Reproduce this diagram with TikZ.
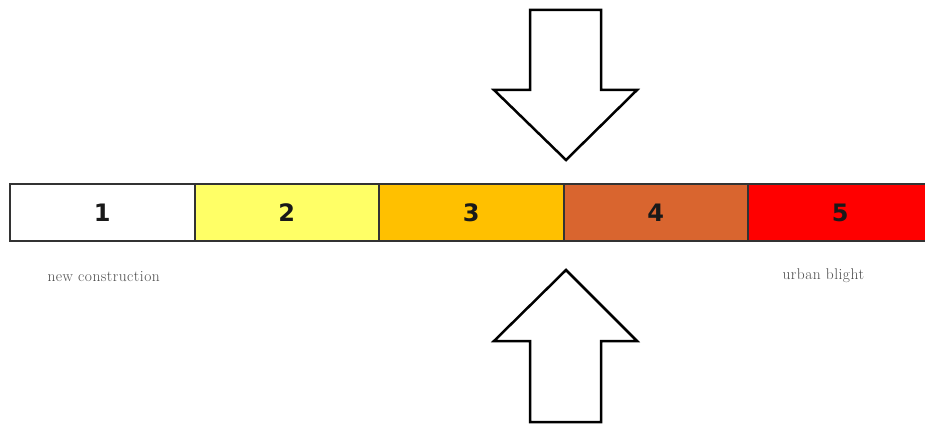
\documentclass[tikz,border=0pt]{standalone}
\usepackage{fontspec}
\newfontfamily\digitfont{DejaVu Sans}
\newfontfamily\capfont{Latin Modern Roman}[LetterSpace=3]
\begin{document}
\begin{tikzpicture}[x=1pt,y=-1pt,
  seg/.style={draw=black!80,line width=2pt,minimum width=184.5pt,minimum height=57pt,inner sep=0pt,anchor=north west,font=\digitfont\bfseries\fontsize{24}{24}\selectfont,text=black!90},
  blockarrow/.style={draw=black,line width=2.5pt,fill=white,line join=miter},
  caption/.style={font=\capfont\fontsize{15.5}{17}\selectfont,text=black!70,anchor=west}]
\useasboundingbox (0,0) rectangle (925,425);
\begin{scope}
\clip (0,0) rectangle (925,425);
\node[seg,fill=white] (s1) at (9,183) {1};
\node[seg,fill={rgb,255:red,255;green,255;blue,102}] (s2) at (193.5,183) {2};
\node[seg,fill={rgb,255:red,255;green,192;blue,0}] (s3) at (378,183) {3};
\node[seg,fill={rgb,255:red,217;green,101;blue,47}] (s4) at (562.5,183) {4};
\node[seg,fill={rgb,255:red,255;green,0;blue,0}] (s5) at (747,183) {5};
\end{scope}
\draw[blockarrow] (530,10) -- (601,10) -- (601,90) -- (637,90) -- (566,160) -- (494,90) -- (530,90) -- cycle;
\draw[blockarrow] (566,270) -- (637,341) -- (601,341) -- (601,422) -- (530,422) -- (530,341) -- (494,341) -- cycle;
\node[caption] (nc) at (44,277) {new construction};
\node[caption] (ub) at (779,276) {urban blight};
\end{tikzpicture}
\end{document}
